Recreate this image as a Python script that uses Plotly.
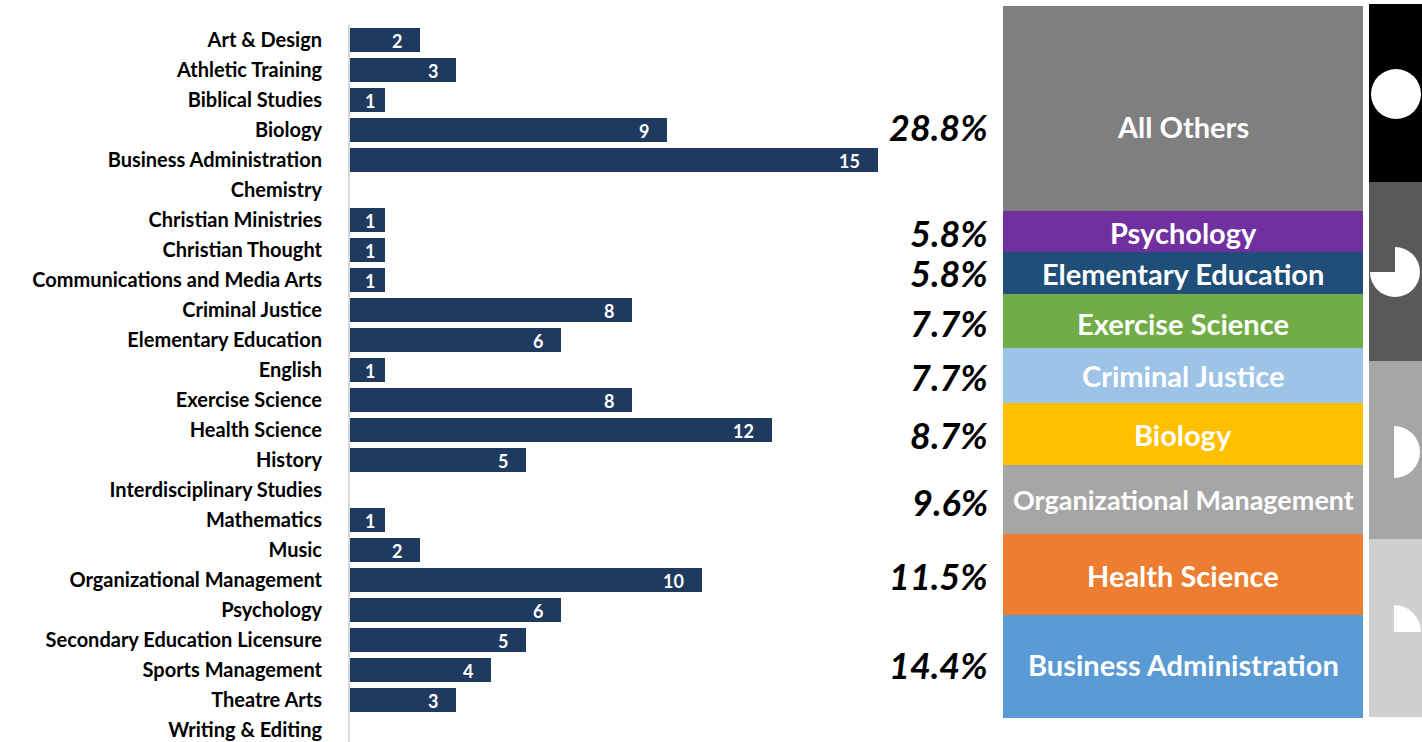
import plotly.graph_objects as go

W, H = 1422, 742

# ---- data ----
majors = ["Art & Design", "Athletic Training", "Biblical Studies", "Biology", "Business Administration",
          "Chemistry", "Christian Ministries", "Christian Thought", "Communications and Media Arts",
          "Criminal Justice", "Elementary Education", "English", "Exercise Science", "Health Science",
          "History", "Interdisciplinary Studies", "Mathematics", "Music", "Organizational Management",
          "Psychology", "Secondary Education Licensure", "Sports Management", "Theatre Arts", "Writing & Editing"]
counts = [2, 3, 1, 9, 15, 0, 1, 1, 1, 8, 6, 1, 8, 12, 5, 0, 1, 2, 10, 6, 5, 4, 3, 0]

share_names = ["Business Administration", "Health Science", "Organizational Management", "Biology",
               "Criminal Justice", "Exercise Science", "Elementary Education", "Psychology", "All Others"]
share_values = [14.4, 11.5, 9.6, 8.7, 7.7, 7.7, 5.8, 5.8, 28.8]

quartile_values = [25, 25, 25, 25]
quartile_fill = [1, 2, 3, 4]   # quarters filled, bottom to top

# ---- styling ----
FONT = "Lato, Carlito, Calibri, sans-serif"
NAVY = "#1f3a5f"
share_colors = ["#5b9bd5", "#ed7d31", "#a5a5a5", "#ffc000", "#9dc3e6", "#70ad47", "#1f4e79", "#7030a0", "#7f7f7f"]
quartile_colors = ["#d0cece", "#a6a6a6", "#595959", "#000000"]
name_shift = [2, -1, 0, 0, 0, -2, 0, -1, -18]     # px offset of the name from segment centre (up +)
pct_shift = [2, -1, -3, -1, -1, -2, 0, -1, -18]
name_size = [29, 29, 27, 29, 29, 29, 29, 29, 29]
balls = [(1394, 632, 27), (1394, 452, 26), (1395, 272, 25), (1396, 94, 25)]


def hdom(a, b):
    return [a / W, b / W]


def vdom(top, bottom):
    return [1 - bottom / H, 1 - top / H]


fig = go.Figure()

# left bars
fig.add_trace(go.Bar(y=majors, x=counts, orientation="h", marker=dict(color=NAVY, line=dict(width=0)),
                     xaxis="x", yaxis="y", hoverinfo="y+x", width=0.8))

# stacked share column
for n, v, c in zip(share_names, share_values, share_colors):
    fig.add_trace(go.Bar(x=["share"], y=[v], name=n, marker=dict(color=c, line=dict(width=0)),
                         xaxis="x2", yaxis="y2", width=1))

# quartile strip
for i, (v, c) in enumerate(zip(quartile_values, quartile_colors)):
    fig.add_trace(go.Bar(x=["quartile"], y=[v], name=f"Q{i+1}", marker=dict(color=c, line=dict(width=0)),
                         xaxis="x3", yaxis="y3", width=1))

# Harvey balls
for q, (cx, cy, r) in zip(quartile_fill, balls):
    fig.add_trace(go.Pie(values=[q, 4 - q], sort=False, direction="clockwise", rotation=0,
                         marker=dict(colors=["#ffffff", "rgba(0,0,0,0)"], line=dict(width=0)),
                         textinfo="none", hoverinfo="skip", showlegend=False,
                         domain=dict(x=hdom(cx - r, cx + r), y=vdom(cy - r, cy + r))))

annotations = []
for m, c in zip(majors, counts):
    if c > 0:
        off = -15 if c == 1 else (-29 if c >= 10 else -23)
        annotations.append(dict(x=c, y=m, xref="x", yref="y", text=f"<b>{c}</b>", showarrow=False,
                                xanchor="center", xshift=off, yshift=-1,
                                font=dict(family=FONT, size=18, color="white")))

base = 0
for n, v, ns, ps, sz in zip(share_names, share_values, name_shift, pct_shift, name_size):
    mid = base + v / 2
    annotations.append(dict(x=0.5, y=mid, xref="paper", yref="y2", text=f"<b>{n}</b>", showarrow=False,
                            xanchor="center", yshift=ns,
                            font=dict(family=FONT, size=sz, color="white")))
    annotations[-1]["x"] = 1183 / W
    annotations.append(dict(x=990 / W, y=mid, xref="paper", yref="y2", text=f"<b><i>{v:.1f}%</i></b>",
                            showarrow=False, xanchor="right", yshift=ps,
                            font=dict(family=FONT, size=36, color="black")))
    base += v

fig.update_layout(
    width=W, height=H, margin=dict(l=0, r=0, t=0, b=0, pad=0, autoexpand=False),
    paper_bgcolor="white", plot_bgcolor="white", showlegend=False, barmode="stack", bargap=0,
    font=dict(family=FONT, color="black"),
    xaxis=dict(domain=hdom(350, 878), range=[0, 15], visible=False, fixedrange=True),
    yaxis=dict(domain=vdom(25, 742), type="category", categoryorder="array", categoryarray=majors,
               range=[23.4, -0.5], showgrid=False, zeroline=False, showline=True, linecolor="#d9d9d9", linewidth=2,
               ticks="", ticklabelstandoff=22, tickfont=dict(family=FONT, size=20, color="black", weight="bold"),
               fixedrange=True, tickmode="array", tickvals=majors, ticktext=majors),
    xaxis2=dict(domain=hdom(1003, 1363), visible=False, fixedrange=True),
    yaxis2=dict(domain=vdom(6, 718), range=[0, 100], visible=False, fixedrange=True),
    xaxis3=dict(domain=hdom(1369, 1422), visible=False, fixedrange=True),
    yaxis3=dict(domain=vdom(4, 717), range=[0, 100], visible=False, fixedrange=True),
    annotations=annotations,
)

fig.write_html("out.html", config=dict(displayModeBar=False),
               post_script="document.body.style.margin='0';document.body.style.overflow='hidden';")
